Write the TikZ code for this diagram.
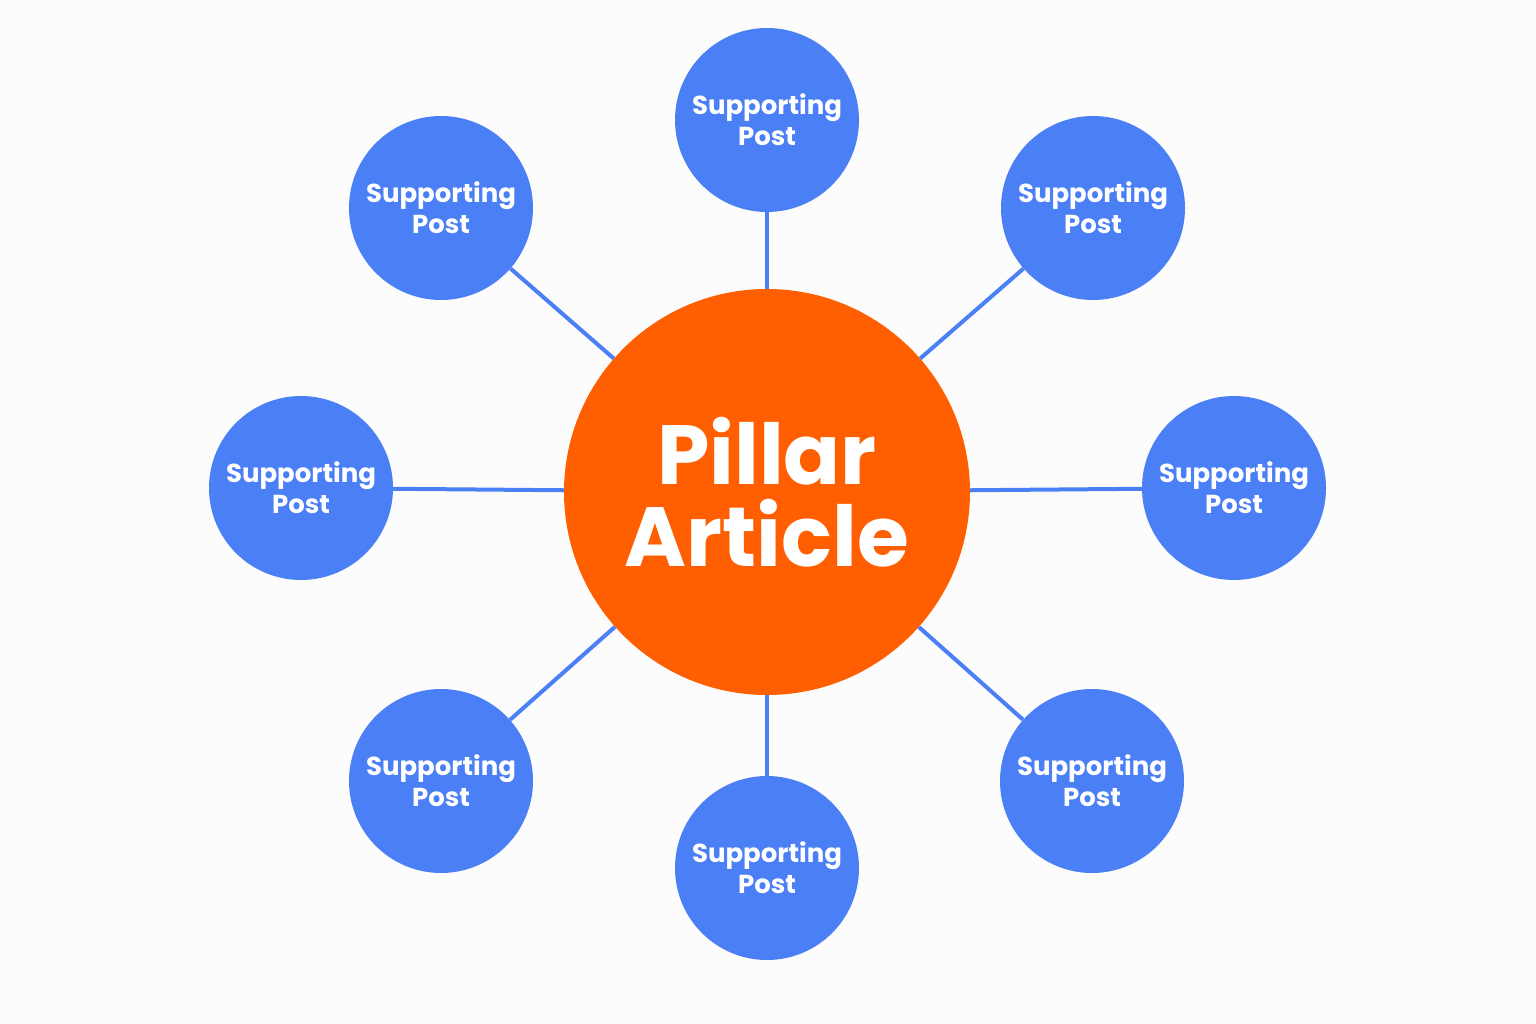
\documentclass[tikz,border=0pt]{standalone}
\usepackage{fontspec}
\setmainfont{Poppins}[BoldFont={* Bold}]
\definecolor{sblue}{HTML}{4A7FF5}
\definecolor{porange}{HTML}{FF5F00}
\definecolor{bg}{HTML}{FCFCFC}
\begin{document}
\begin{tikzpicture}[x=1pt,y=-1pt,
  sat/.style={circle,fill=sblue,minimum size=184pt,inner sep=0pt,text=white,font=\bfseries\fontsize{26}{31}\selectfont,align=center},
  hub/.style={circle,fill=porange,minimum size=406pt,inner sep=0pt,text=white,font=\bfseries\fontsize{84}{82}\selectfont,align=center},
  link/.style={draw=sblue,line width=4pt}]
\fill[bg] (0,0) rectangle (1536,1024);
\useasboundingbox (0,0) rectangle (1536,1024);
\node[hub] (c) at (767,492) {Pillar\\Article};
\node[sat] (t) at (767,120) {Supporting\\Post};
\node[sat] (tl) at (441,208) {Supporting\\Post};
\node[sat] (tr) at (1093,208) {Supporting\\Post};
\node[sat] (l) at (301,488) {Supporting\\Post};
\node[sat] (r) at (1234,488) {Supporting\\Post};
\node[sat] (bl) at (441,781) {Supporting\\Post};
\node[sat] (b) at (767,868) {Supporting\\Post};
\node[sat] (br) at (1092,781) {Supporting\\Post};
\begin{scope}[on background layer/.try]
\end{scope}
\foreach \n in {t,tl,tr,l,r,bl,b,br} \draw[link] (c) -- (\n);
\end{tikzpicture}
\end{document}
